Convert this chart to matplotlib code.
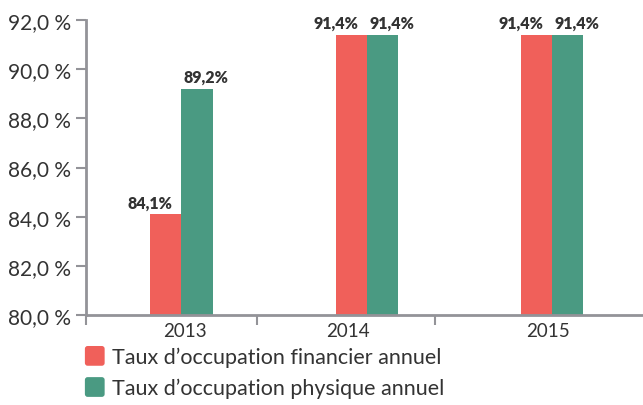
import matplotlib
matplotlib.use("Agg")
import matplotlib.pyplot as plt
import numpy as np
from matplotlib.patches import FancyBboxPatch
from matplotlib.legend_handler import HandlerPatch

years = ["2013", "2014", "2015"]
financier = [84.1, 91.4, 91.4]
physique = [89.2, 91.4, 91.4]
labels_fin = ["84,1%", "91,4%", "91,4%"]
labels_phy = ["89,2%", "91,4%", "91,4%"]
yticks = [80, 82, 84, 86, 88, 90, 92]
ytick_labels = ["80,0 %", "82,0 %", "84,0 %", "86,0 %", "88,0 %", "90,0 %", "92,0 %"]
series_names = ["Taux d\u2019occupation financier annuel", "Taux d\u2019occupation physique annuel"]

RED = "#F0605A"
GREEN = "#4A9A82"
AXIS = "#939398"
TEXT = "#333333"

plt.rcParams['font.family'] = ['Lato', 'DejaVu Sans']

fig = plt.figure(figsize=(6.43, 4.06), dpi=100)
ax = fig.add_axes([86/643, 1-316/406, 1-86/643, 295/406])

x = np.arange(len(years))
w = 0.168
b1 = ax.bar(x - w/2, np.array(financier) - 80, w, bottom=80, color=RED, label=series_names[0])
b2 = ax.bar(x + w/2, np.array(physique) - 80, w, bottom=80, color=GREEN, label=series_names[1])

for i in range(len(years)):
    ax.text(x[i] - w/2 - 0.085, financier[i] + 0.15, labels_fin[i], ha='center', va='bottom',
            fontsize=11.5, fontweight='heavy', color=TEXT)
    ax.text(x[i] + w/2 + 0.05, physique[i] + 0.15, labels_phy[i], ha='center', va='bottom',
            fontsize=11.5, fontweight='heavy', color=TEXT)

ax.set_ylim(80, 92)
ax.set_xlim(-0.515, 2.49)
ax.set_yticks(yticks)
ax.set_yticklabels(ytick_labels, fontsize=15, color=TEXT)
ax.set_xticks([0.02, 0.9, 1.98])
ax.set_xticklabels(years, fontsize=13.5, color=TEXT)
ax.set_xticks([-0.515, 0.41, 1.366], minor=True)
ax.tick_params(axis='x', which='major', length=0, pad=5)
ax.tick_params(axis='x', which='minor', length=7, width=1.5, color=AXIS)
ax.tick_params(axis='y', length=7, width=1.5, color=AXIS, pad=4)

for s in ['top', 'right']:
    ax.spines[s].set_visible(False)
for s in ['left', 'bottom']:
    ax.spines[s].set_color(AXIS)
    ax.spines[s].set_linewidth(2)

class RoundHandler(HandlerPatch):
    def create_artists(self, legend, orig_handle, xdescent, ydescent, width, height, fontsize, trans):
        size = height * 1.2
        p = FancyBboxPatch((-xdescent + (width - size) / 2, -ydescent + (height - size) / 2), size, size,
                           boxstyle="round,pad=0,rounding_size=2", facecolor=orig_handle.get_facecolor(),
                           edgecolor='none', transform=trans)
        return [p]

leg = fig.legend(handles=[b1.patches[0], b2.patches[0]], labels=series_names,
                 loc='upper left', bbox_to_anchor=(84/643, 1-348/406), frameon=False,
                 fontsize=15.5, handlelength=1.0, handleheight=0.8, handletextpad=0.3,
                 labelspacing=0.5, labelcolor=TEXT, borderaxespad=0, borderpad=0,
                 handler_map={matplotlib.patches.Rectangle: RoundHandler()})

fig.savefig("out.png", dpi=100)
